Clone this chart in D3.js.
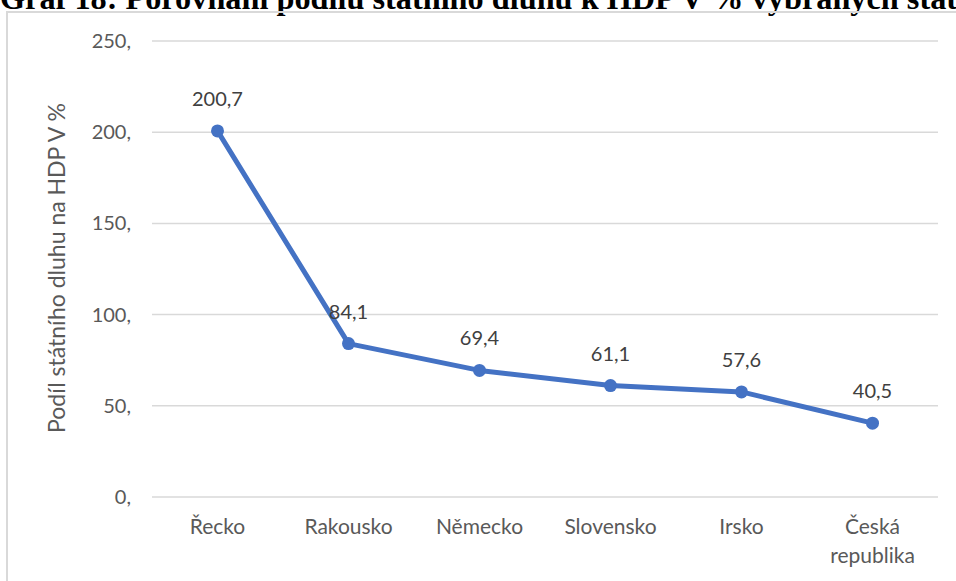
<!DOCTYPE html>
<html><head><meta charset="utf-8">
<script src="https://cdn.jsdelivr.net/npm/d3@7"></script>
<style>html,body{margin:0;padding:0;background:#fff;overflow:hidden}</style>
</head><body>
<svg id="c" width="956" height="581"></svg>
<script>
const title = "Graf 18: Porovnání podílu státního dluhu k HDP V % vybraných států";
const yAxisTitle = "Podíl státního dluhu na HDP V %";
const categories = ["Řecko", "Rakousko", "Německo", "Slovensko", "Irsko", "Česká republika"];
const values = [200.7, 84.1, 69.4, 61.1, 57.6, 40.5];
const valueLabels = ["200,7", "84,1", "69,4", "61,1", "57,6", "40,5"];
const yTicks = [0, 50, 100, 150, 200, 250];
const yTickLabels = ["0,", "50,", "100,", "150,", "200,", "250,"];

const svg = d3.select("#c");
const font = "Lato, 'Open Sans', sans-serif";
const textColor = "#595959";

// title (clipped at top, as in the reference)
svg.append("text").attr("x", 0).attr("y", 9)
  .attr("font-family", "'Liberation Serif', 'Times New Roman', serif")
  .attr("font-weight", "bold").attr("font-size", 31).attr("fill", "#000")
  .attr("textLength", 975).attr("lengthAdjust", "spacingAndGlyphs")
  .text(title);

// chart border
svg.append("rect").attr("x", 7).attr("y", 12).attr("width", 1000).attr("height", 600)
  .attr("fill", "none").attr("stroke", "#d9d9d9").attr("stroke-width", 2);

const x = d3.scaleBand().domain(categories).range([152, 938]).padding(0);
const y = d3.scaleLinear().domain([0, 250]).range([497, 41]);

// gridlines
svg.append("g").selectAll("line").data(yTicks).join("line")
  .attr("x1", 152).attr("x2", 938)
  .attr("y1", d => y(d)).attr("y2", d => y(d))
  .attr("stroke", "#d9d9d9").attr("stroke-width", 1.5);

// y tick labels
svg.append("g").selectAll("text").data(yTicks).join("text")
  .attr("x", 131).attr("y", d => y(d)).attr("dy", "0.35em")
  .attr("text-anchor", "end").attr("font-family", font).attr("font-size", 20)
  .attr("fill", textColor).text((d, i) => yTickLabels[i]);

// y axis title
svg.append("text").attr("transform", "translate(65,268) rotate(-90)")
  .attr("text-anchor", "middle").attr("font-family", font).attr("font-size", 23)
  .attr("fill", textColor).text(yAxisTitle);

// category labels
const cx = d => x(d) + x.bandwidth() / 2;
const cat = svg.append("g").selectAll("text").data(categories).join("text")
  .attr("x", d => cx(d)).attr("y", 534)
  .attr("text-anchor", "middle").attr("font-family", font).attr("font-size", 21)
  .attr("fill", textColor);
cat.each(function(d) {
  const parts = d === "Česká republika" ? ["Česká", "republika"] : [d];
  const t = d3.select(this);
  parts.forEach((p, i) => t.append("tspan").attr("x", cx(d)).attr("dy", i === 0 ? 0 : 29).text(p));
});

// line
const pts = categories.map((c, i) => [cx(c), y(values[i])]);
svg.append("path").attr("d", d3.line()(pts))
  .attr("fill", "none").attr("stroke", "#4472C4").attr("stroke-width", 5)
  .attr("stroke-linejoin", "round");
svg.append("g").selectAll("circle").data(pts).join("circle")
  .attr("cx", d => d[0]).attr("cy", d => d[1]).attr("r", 6.5).attr("fill", "#4472C4");

// data labels
svg.append("g").selectAll("text").data(categories).join("text")
  .attr("x", d => cx(d)).attr("y", (d, i) => y(values[i]) - 25)
  .attr("text-anchor", "middle").attr("font-family", font).attr("font-size", 20)
  .attr("fill", "#404040").text((d, i) => valueLabels[i]);
</script>
</body></html>
